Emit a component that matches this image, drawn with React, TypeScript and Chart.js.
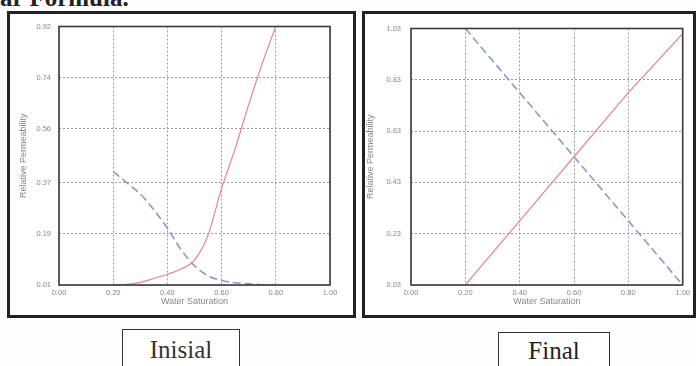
import React, { useEffect, useRef } from "react";
import { Chart, registerables } from "chart.js";

Chart.register(...registerables);

// ---- Data ----
const xTicks = [0.0, 0.2, 0.4, 0.6, 0.8, 1.0];

const initialSw = [0.2, 0.25, 0.3, 0.35, 0.4, 0.45, 0.5, 0.55, 0.6, 0.65, 0.7, 0.75, 0.8];
const initialKrw = [0.01, 0.012, 0.019, 0.033, 0.048, 0.066, 0.098, 0.185, 0.35, 0.49, 0.645, 0.79, 0.92];
const initialKro = [0.41, 0.37, 0.33, 0.275, 0.21, 0.135, 0.078, 0.042, 0.026, 0.018, 0.014, 0.011, 0.01];
const initialYTicks = [0.01, 0.19, 0.37, 0.56, 0.74, 0.92];

const finalSw = [0.2, 0.4, 0.6, 0.8, 1.0];
const finalKrw = [0.03, 0.28, 0.53, 0.78, 1.01];
const finalKro = [1.03, 0.78, 0.53, 0.28, 0.03];
const finalYTicks = [0.03, 0.23, 0.43, 0.63, 0.83, 1.03];

const RED = "#e8848f";
const BLUE = "#8c98d0";
const TICK_COLOR = "#888";
const FONT = "'Liberation Sans', Arial, sans-serif";

const framePlugin = {
  id: "frame",
  afterDatasetsDraw(chart: any) {
    const { ctx, chartArea } = chart;
    ctx.save();
    ctx.strokeStyle = "#3a3a3a";
    ctx.lineWidth = 1.6;
    ctx.setLineDash([]);
    ctx.strokeRect(chartArea.left, chartArea.top, chartArea.right - chartArea.left, chartArea.bottom - chartArea.top);
    ctx.restore();
  },
};

type Props = {
  left: number;
  top: number;
  width: number;
  height: number;
  yAxisWidth: number;
  xAxisHeight: number;
  padRight: number;
  padTop: number;
  yTitlePad: number;
  yTickPad: number;
  sw: number[];
  krw: number[];
  kro: number[];
  yTicks: number[];
  smooth: boolean;
};

function RelPermChart(p: Props) {
  const ref = useRef<HTMLCanvasElement>(null);
  useEffect(() => {
    const yMin = p.yTicks[0];
    const yMax = p.yTicks[p.yTicks.length - 1];
    const chart = new Chart(ref.current as HTMLCanvasElement, {
      type: "line",
      data: {
        datasets: [
          {
            data: p.sw.map((x, i) => ({ x, y: p.krw[i] })),
            borderColor: RED,
            borderWidth: 1.2,
            pointRadius: 0,
            fill: false,
            cubicInterpolationMode: p.smooth ? "monotone" : "default",
            tension: 0,
          },
          {
            data: p.sw.map((x, i) => ({ x, y: p.kro[i] })),
            borderColor: BLUE,
            borderWidth: 1.6,
            borderDash: [8, 4],
            pointRadius: 0,
            fill: false,
            cubicInterpolationMode: p.smooth ? "monotone" : "default",
            tension: 0,
          },
        ],
      } as any,
      options: {
        animation: false,
        responsive: false,
        maintainAspectRatio: false,
        layout: { padding: { left: 0, right: p.padRight, top: p.padTop, bottom: 0 } },
        plugins: { legend: { display: false }, tooltip: { enabled: false } },
        scales: {
          x: {
            type: "linear",
            min: 0,
            max: 1,
            afterBuildTicks: (s: any) => {
              s.ticks = xTicks.map((v) => ({ value: v }));
            },
            afterFit: (s: any) => {
              s.height = p.xAxisHeight;
            },
            ticks: {
              autoSkip: false,
              maxRotation: 0,
              padding: 3,
              color: TICK_COLOR,
              font: { size: 7.5, family: FONT },
              callback: (v: any) => Number(v).toFixed(2),
            },
            grid: { color: "#9a9a9a", lineWidth: 1, drawTicks: false },
            border: { display: false, dash: [2, 2] },
            title: {
              display: true,
              text: "Water Saturation",
              color: TICK_COLOR,
              font: { size: 9, family: FONT },
              padding: { top: 0, bottom: 7 },
            },
          },
          y: {
            type: "linear",
            min: yMin,
            max: yMax,
            afterBuildTicks: (s: any) => {
              s.ticks = p.yTicks.map((v) => ({ value: v }));
            },
            afterFit: (s: any) => {
              s.width = p.yAxisWidth;
            },
            ticks: {
              autoSkip: false,
              padding: p.yTickPad,
              color: TICK_COLOR,
              font: { size: 7.5, family: FONT },
              callback: (v: any) => Number(v).toFixed(2),
            },
            grid: { color: "#9a9a9a", lineWidth: 1, drawTicks: false },
            border: { display: false, dash: [2, 2] },
            title: {
              display: true,
              text: "Relative Permeability",
              color: TICK_COLOR,
              font: { size: 9, family: FONT },
              padding: { top: p.yTitlePad, bottom: 0 },
            },
          },
        },
      } as any,
      plugins: [framePlugin],
    });
    return () => chart.destroy();
  }, []);
  return (
    <canvas
      ref={ref}
      width={p.width}
      height={p.height}
      style={{ position: "absolute", left: p.left, top: p.top, width: p.width, height: p.height }}
    />
  );
}

export default function App() {
  return (
    <div
      style={{
        position: "absolute",
        left: 0,
        top: 0,
        width: 696,
        height: 366,
        overflow: "hidden",
        background: "#fdfdfd",
        fontFamily: "'Liberation Serif', 'Times New Roman', serif",
      }}
    >
      <div
        style={{
          position: "absolute",
          left: 0,
          top: -15,
          fontSize: 25,
          lineHeight: "25px",
          fontWeight: "bold",
          color: "#222",
          whiteSpace: "nowrap",
        }}
      >
        ar Formula.
      </div>

      <div
        style={{
          position: "absolute",
          left: 7,
          top: 11,
          width: 349,
          height: 307,
          boxSizing: "border-box",
          border: "3px solid #222",
          background: "#fff",
        }}
      />
      <div
        style={{
          position: "absolute",
          left: 362,
          top: 11,
          width: 334,
          height: 307,
          boxSizing: "border-box",
          border: "3px solid #222",
          background: "#fff",
        }}
      />

      <RelPermChart
        left={11}
        top={14}
        width={342}
        height={300}
        yAxisWidth={48}
        xAxisHeight={29}
        padRight={23}
        padTop={7}
        yTitlePad={7.5}
        yTickPad={8}
        sw={initialSw}
        krw={initialKrw}
        kro={initialKro}
        yTicks={initialYTicks}
        smooth={true}
      />
      <RelPermChart
        left={365}
        top={14}
        width={328}
        height={300}
        yAxisWidth={46}
        xAxisHeight={29}
        padRight={10}
        padTop={7}
        yTitlePad={0.6}
        yTickPad={10}
        sw={finalSw}
        krw={finalKrw}
        kro={finalKro}
        yTicks={finalYTicks}
        smooth={false}
      />

      <div
        style={{
          position: "absolute",
          left: 122,
          top: 329,
          width: 118,
          height: 60,
          boxSizing: "border-box",
          border: "1.5px solid #333",
          background: "#fff",
        }}
      />
      <div
        style={{
          position: "absolute",
          left: 122,
          top: 337,
          width: 118,
          textAlign: "center",
          fontSize: 25,
          lineHeight: "25px",
          color: "#333",
        }}
      >
        Inisial
      </div>

      <div
        style={{
          position: "absolute",
          left: 498,
          top: 332,
          width: 112,
          height: 60,
          boxSizing: "border-box",
          border: "1.5px solid #333",
          background: "#fff",
        }}
      />
      <div
        style={{
          position: "absolute",
          left: 498,
          top: 338,
          width: 112,
          textAlign: "center",
          fontSize: 25,
          lineHeight: "25px",
          color: "#222",
        }}
      >
        Final
      </div>
    </div>
  );
}
